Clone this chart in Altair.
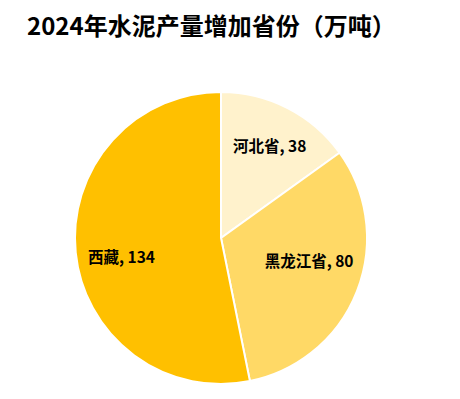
import altair as alt
import pandas as pd

provinces = ["河北省", "黑龙江省", "西藏"]
values = [38, 80, 134]
colors = ["#FFF2CC", "#FFD966", "#FFC000"]
title_text = "2024年水泥产量增加省份（万吨）"

df = pd.DataFrame({
    "province": provinces,
    "value": values,
    "order": list(range(len(provinces))),
})
df["label"] = df["province"] + ", " + df["value"].astype(str)

CX, CY, R = 213, 230, 146
FONT = "Noto Sans CJK SC"

base = alt.Chart(df).encode(
    theta=alt.Theta("value:Q", stack=True),
    order=alt.Order("order:Q"),
)

pie = base.mark_arc(x=CX, y=CY, outerRadius=R, stroke="white", strokeWidth=2).encode(
    color=alt.Color("province:N", scale=alt.Scale(domain=provinces, range=colors), legend=None),
)

# per-label nudges (styling only)
nudges = {"河北省": (3, -2), "黑龙江省": (-5, -13), "西藏": (0, 10)}
label_layers = []
for p in provinces:
    ddx, ddy = nudges[p]
    label_layers.append(
        base.mark_text(
            x=CX, y=CY, radius=100, dx=ddx, dy=ddy, font=FONT, fontSize=15.5,
            fontWeight="bold", color="black"
        ).encode(text="label:N", opacity=alt.condition(alt.datum.province == p, alt.value(1), alt.value(0)))
    )

title = alt.Chart(pd.DataFrame({"t": [title_text]})).mark_text(
    align="left", baseline="alphabetic", font=FONT, fontSize=24, fontWeight="bold", color="black"
).encode(x=alt.value(19), y=alt.value(27), text="t:N")

chart = alt.layer(pie, *label_layers, title).properties(
    width=444, height=383, autosize=alt.AutoSizeParams(type="none"), padding=0
).configure_view(stroke=None)

chart.save("out.html", embed_options={"renderer": "svg", "actions": False})
